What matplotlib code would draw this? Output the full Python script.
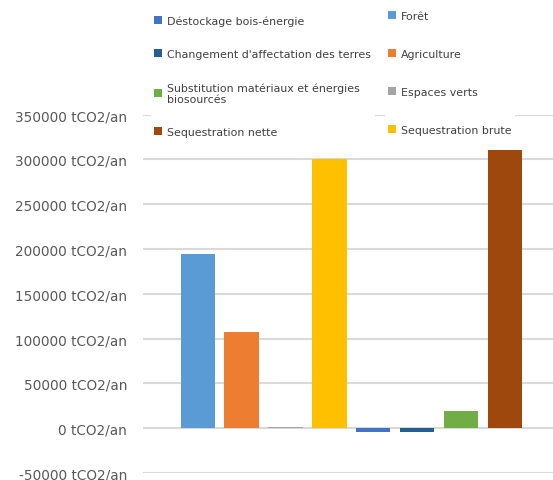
import matplotlib.pyplot as plt
from matplotlib.patches import Patch

# Series (one bar each, single category)
series = ["Forêt", "Agriculture", "Espaces verts", "Sequestration brute",
          "Déstockage bois-énergie", "Changement d'affectation des terres",
          "Substitution matériaux et énergies\nbiosourcés", "Sequestration nette"]
values = [194000, 107000, 1000, 301000, -4500, -4500, 19000, 311000]
colors = ["#5B9BD5", "#ED7D31", "#A5A5A5", "#FFC000",
          "#4472C4", "#255E91", "#70AD47", "#9E480E"]
yticks = [-50000, 0, 50000, 100000, 150000, 200000, 250000, 300000, 350000]

fig = plt.figure(figsize=(5.53, 4.81), dpi=100)
ax = fig.add_axes([0.259, 0.0146, 0.741, 0.745])

pos = list(range(len(values)))
ax.bar(pos, values, width=0.78, color=colors, zorder=3)

ax.set_xlim(-1.24, 8.09)
ax.set_ylim(-50000, 350000)
ax.set_yticks(yticks)
ax.set_yticklabels([f"{v} tCO2/an" for v in yticks])
ax.set_xticks([])
ax.tick_params(axis="y", length=0, pad=11.5, labelsize=9.8, labelcolor="#595959")
ax.grid(axis="y", color="#D9D9D9", linewidth=1.5, zorder=0)
for s in ax.spines.values():
    s.set_visible(False)


def column_legend(idx, anchor, spacing):
    handles = [Patch(facecolor=colors[i], label=series[i]) for i in idx]
    leg = fig.legend(handles=handles, ncol=1, loc="upper left",
                     bbox_to_anchor=anchor, frameon=True,
                     fontsize=7.9, handlelength=0.75, handleheight=0.75,
                     handletextpad=0.45, labelspacing=spacing, borderpad=0.3)
    leg.get_frame().set_facecolor("white")
    leg.get_frame().set_edgecolor("none")
    leg.get_frame().set_alpha(1)
    for t in leg.get_texts():
        t.set_color("#404040")
    return leg


# legend drawn as two columns, like the original
column_legend([4, 5, 6, 7], (0.263, 0.984), 2.1)
column_legend([0, 1, 2, 3], (0.686, 0.994), 2.55)

fig.savefig("out.png", dpi=100)
